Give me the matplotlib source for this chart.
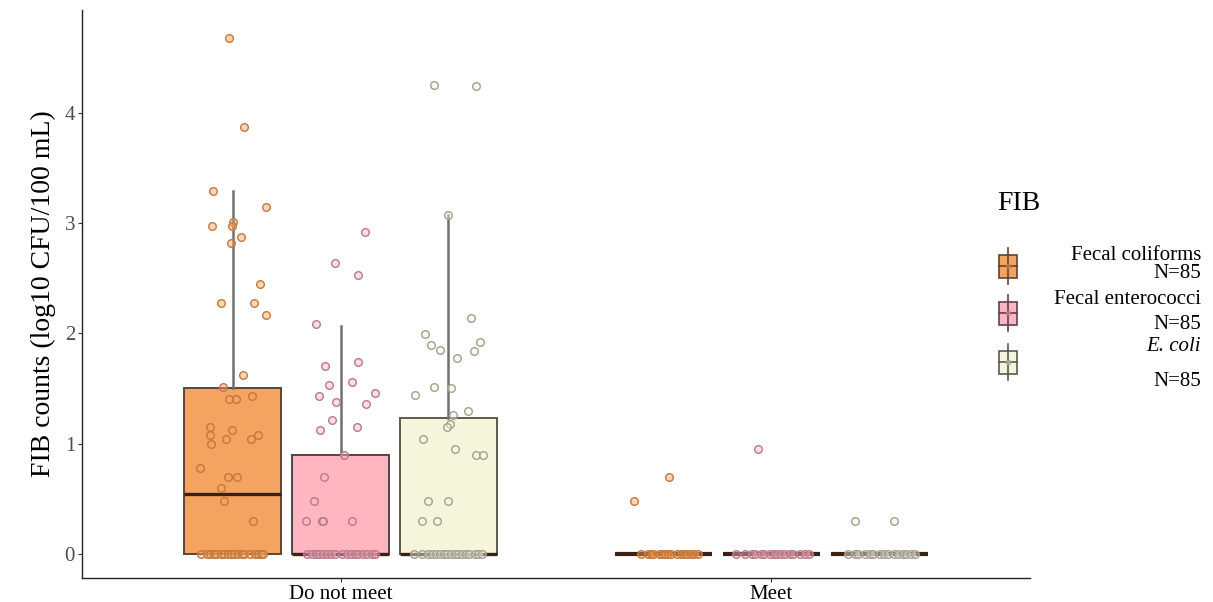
import matplotlib
matplotlib.use("Agg")
import matplotlib.pyplot as plt
from matplotlib.colors import to_rgba
from matplotlib.patches import Rectangle

plt.rcParams['font.family'] = ['Liberation Serif', 'DejaVu Serif']

# ===============================
# Data
# ===============================
groups = ["Do not meet", "Meet"]
fib_names = ["Fecal coliforms", "Fecal enterococci", "E. coli"]
n_labels = ["N=85", "N=85", "N=85"]

# box statistics per group, one value per FIB
q1_dnm = [0.0, 0.0, 0.0]
med_dnm = [0.54, 0.0, 0.0]
q3_dnm = [1.50, 0.90, 1.23]
whishi_dnm = [3.29, 2.07, 3.07]

q1_meet = [0.0, 0.0, 0.0]
med_meet = [0.0, 0.0, 0.0]
q3_meet = [0.0, 0.0, 0.0]
whishi_meet = [0.0, 0.0, 0.0]

# jittered points: values and horizontal jitter (category units)
fc_dnm_vals = [4.68, 3.87, 3.29, 3.14, 3.01, 2.97, 2.97, 2.87, 2.82, 2.45, 2.27,
               2.27, 2.17, 1.62, 1.51, 1.43, 1.40, 1.40, 1.15, 1.12, 1.08, 1.08,
               1.04, 1.04, 1.00, 0.78, 0.70, 0.70, 0.60, 0.48, 0.30]
fc_dnm_jit = [-0.009, 0.025, -0.046, 0.076, 0.0, -0.049, -0.002, 0.019, -0.005,
              0.063, -0.028, 0.049, 0.076, 0.023, -0.023, 0.044, -0.009, 0.007,
              -0.053, -0.002, -0.053, 0.058, -0.016, 0.042, -0.051, -0.076,
              -0.012, 0.009, -0.028, -0.021, 0.046]
fc_dnm_zero_jit = [-0.074, -0.061, -0.052, -0.044, -0.038, -0.027, -0.021, -0.012,
                   -0.004, 0.003, 0.013, 0.021, 0.026, 0.039, 0.051, 0.058, 0.066, 0.071]

fe_dnm_vals = [2.92, 2.64, 2.53, 2.08, 1.74, 1.70, 1.56, 1.53, 1.46, 1.43, 1.38,
               1.36, 1.21, 1.15, 1.12, 0.90, 0.70, 0.48, 0.30, 0.30, 0.30, 0.30]
fe_dnm_jit = [0.057, -0.013, 0.041, -0.057, 0.041, -0.036, 0.027, -0.027, 0.080,
              -0.050, -0.010, 0.059, -0.020, 0.038, -0.048, 0.008, -0.038, -0.061,
              -0.080, -0.043, -0.040, 0.027]
fe_dnm_zero_jit = [-0.078, -0.066, -0.058, -0.049, -0.041, -0.032, -0.021, -0.013,
                   0.004, 0.016, 0.024, 0.033, 0.041, 0.052, 0.061, 0.072, 0.080]

ec_dnm_vals = [4.25, 4.24, 3.07, 2.14, 1.99, 1.92, 1.89, 1.85, 1.84, 1.78, 1.51,
               1.50, 1.44, 1.30, 1.26, 1.18, 1.15, 1.04, 0.95, 0.90, 0.90, 0.48,
               0.48, 0.30, 0.30]
ec_dnm_jit = [-0.034, 0.064, -0.001, 0.052, -0.054, 0.073, -0.041, -0.020, 0.059,
              0.020, -0.034, 0.006, -0.078, 0.045, 0.010, 0.003, -0.003, -0.059,
              0.015, 0.064, 0.080, -0.048, -0.001, -0.061, -0.027]
ec_dnm_zero_jit = [-0.079, -0.060, -0.046, -0.038, -0.029, -0.019, -0.011, -0.004,
                   0.006, 0.015, 0.023, 0.031, 0.040, 0.049, 0.062, 0.070, 0.078]

fc_meet_vals = [0.70, 0.48]
fc_meet_jit = [0.012, -0.070]
fc_meet_zero_jit = [-0.053, -0.036, -0.030, -0.024, -0.011, -0.005, 0.002, 0.011,
                    0.018, 0.031, 0.040, 0.046, 0.055, 0.063, 0.071, 0.079]

fe_meet_vals = [0.95]
fe_meet_jit = [-0.032]
fe_meet_zero_jit = [-0.083, -0.061, -0.046, -0.039, -0.024, -0.017, -0.004, 0.006,
                    0.013, 0.022, 0.031, 0.043, 0.051, 0.067, 0.079, 0.086]

ec_meet_vals = [0.30, 0.30]
ec_meet_jit = [-0.056, 0.035]
ec_meet_zero_jit = [-0.072, -0.056, -0.048, -0.032, -0.022, -0.014, 0.002, 0.011,
                    0.020, 0.035, 0.043, 0.056, 0.063, 0.074, 0.083]

fills = ["#F4A460", "#FFB6C1", "#F5F5DC"]
point_edges = ["#C4783C", "#B87A8A", "#A0A092"]
box_edges = ["#5E4434", "#5E3F4A", "#5A5A4E"]
median_color = "#3A2015"
whisker_color = "#707070"

# ===============================
# Figure
# ===============================
fig = plt.figure(figsize=(12.13, 6.02), dpi=100)
ax = fig.add_axes([82 / 1213, 1 - 578 / 602, (1030 - 82) / 1213, (578 - 10) / 602])

dodge = [-0.25, 0.0, 0.25]
box_w = 0.225

stats_by_group = [
    (q1_dnm, med_dnm, q3_dnm, whishi_dnm),
    (q1_meet, med_meet, q3_meet, whishi_meet),
]

for gi, (q1s, meds, q3s, whis) in enumerate(stats_by_group):
    for fi in range(3):
        st = [dict(q1=q1s[fi], med=meds[fi], q3=q3s[fi],
                   whislo=q1s[fi], whishi=whis[fi], fliers=[])]
        pos = gi + dodge[fi]
        flat = q3s[fi] == q1s[fi]
        b = ax.bxp(st, positions=[pos], widths=box_w, patch_artist=True,
                   showcaps=False, showfliers=False, manage_ticks=False,
                   boxprops=dict(facecolor=fills[fi], edgecolor=box_edges[fi],
                                 linewidth=1.4),
                   whiskerprops=dict(color=whisker_color, linewidth=1.8),
                   medianprops=dict(color=median_color,
                                    linewidth=3.0 if flat else 2.4,
                                    solid_capstyle="butt"))
        for art in b["boxes"] + b["whiskers"] + b["medians"]:
            art.set_zorder(2)

point_sets = [
    (0, 0, fc_dnm_vals, fc_dnm_jit, fc_dnm_zero_jit),
    (0, 1, fe_dnm_vals, fe_dnm_jit, fe_dnm_zero_jit),
    (0, 2, ec_dnm_vals, ec_dnm_jit, ec_dnm_zero_jit),
    (1, 0, fc_meet_vals, fc_meet_jit, fc_meet_zero_jit),
    (1, 1, fe_meet_vals, fe_meet_jit, fe_meet_zero_jit),
    (1, 2, ec_meet_vals, ec_meet_jit, ec_meet_zero_jit),
]
for gi, fi, vals, jit, zjit in point_sets:
    xs = [gi + dodge[fi] + j for j in jit] + [gi + dodge[fi] + j for j in zjit]
    ys = list(vals) + [0.0] * len(zjit)
    ax.scatter(xs, ys, s=30, facecolor=to_rgba(fills[fi], 0.45),
               edgecolor=point_edges[fi], linewidth=1.0, zorder=3)

ax.set_xlim(-0.6, 1.6)
ax.set_ylim(-0.218, 4.93)
ax.set_xticks([0, 1])
ax.set_xticklabels(groups, fontsize=15, color="black")
ax.set_yticks([0, 1, 2, 3, 4])
ax.set_yticklabels(["0", "1", "2", "3", "4"], fontsize=15, color="#4D4D4D")
ax.tick_params(axis="both", length=3, width=0.8, color="#333333", pad=2)
ax.set_ylabel("FIB counts (log10 CFU/100 mL)", fontsize=20, labelpad=6)
for side in ["top", "right"]:
    ax.spines[side].set_visible(False)
for side in ["left", "bottom"]:
    ax.spines[side].set_linewidth(1.0)
    ax.spines[side].set_color("#222222")

# ===============================
# Legend (drawn by hand in pixel space)
# ===============================
lax = fig.add_axes([0, 0, 1, 1], zorder=5)
lax.set_xlim(0, 1213)
lax.set_ylim(602, 0)
lax.axis("off")

lax.text(997, 204, "FIB", fontsize=20, va="center", ha="left")
key_centers = [266, 313, 362]
for i, yc in enumerate(key_centers):
    lax.plot([1008, 1008], [yc - 18, yc + 18], color=box_edges[i], lw=1.2)
    lax.add_patch(Rectangle((999, yc - 11.5), 18, 23, facecolor=fills[i],
                            edgecolor=box_edges[i], lw=1.2))
    lax.plot([999, 1017], [yc, yc], color=box_edges[i], lw=1.2)
    lax.scatter([1008], [yc], s=10, facecolor=to_rgba(fills[i], 0.45),
                edgecolor=point_edges[i], lw=0.8, zorder=6)

# label baselines (pixels from top)
label_lines = [(fib_names[0], 260, "normal"), (n_labels[0], 278, "normal"),
               (fib_names[1], 304, "normal"), (n_labels[1], 329, "normal"),
               (fib_names[2], 351, "italic"), (n_labels[2], 386, "normal")]
for txt, yb, sty in label_lines:
    lax.text(1201, yb, txt, fontsize=15, ha="right", va="baseline", style=sty)

fig.savefig("out.png", dpi=100)
